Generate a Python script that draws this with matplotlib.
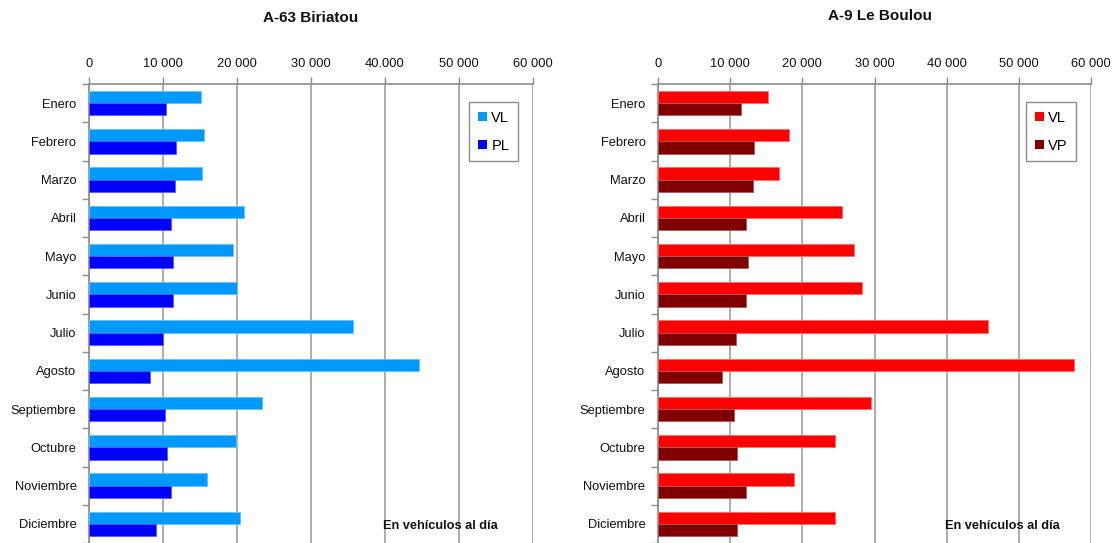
import matplotlib
matplotlib.use("Agg")
import matplotlib.pyplot as plt
from matplotlib.patches import Patch
import numpy as np

plt.rcParams['font.family'] = ['Liberation Sans', 'DejaVu Sans']

months = ["Enero", "Febrero", "Marzo", "Abril", "Mayo", "Junio", "Julio",
          "Agosto", "Septiembre", "Octubre", "Noviembre", "Diciembre"]

# A-63 Biriatou (vehículos al día)
biriatou_vl = [15200, 15500, 15250, 21000, 19500, 20000, 35700, 44600,
               23400, 19800, 16000, 20400]
biriatou_pl = [10350, 11800, 11600, 11100, 11400, 11400, 10000, 8300,
               10300, 10500, 11100, 9100]

# A-9 Le Boulou (vehículos al día)
boulou_vl = [15250, 18100, 16700, 25500, 27200, 28300, 45700, 57600,
             29500, 24500, 18900, 24500]
boulou_vp = [11500, 13300, 13100, 12200, 12500, 12200, 10800, 8800,
             10600, 10900, 12250, 10900]

x_ticks = [0, 10000, 20000, 30000, 40000, 50000, 60000]
left_tick_labels = ["0", "10 000", "20 000", "30 000", "40.000", "50 000", "60 000"]
right_tick_labels = ["0", "10 000", "20 000", "30 000", "40 000", "50 000", "60 000"]

W, H = 1118, 543
fig = plt.figure(figsize=(W / 100, H / 100), dpi=100)

GRID = "#a0a0a0"
AXIS = "#8c8c8c"


def draw_panel(rect, vl, second, names, colors, edges, tick_labels, title, title_xy):
    ax = fig.add_axes(rect)
    y = np.arange(len(months))
    h = 0.32
    ax.barh(y - h / 2, vl, height=h, color=colors[0], edgecolor=edges[0],
            linewidth=0.6, zorder=3)
    ax.barh(y + h / 2, second, height=h, color=colors[1], edgecolor=edges[1],
            linewidth=0.6, zorder=3)

    ax.set_xlim(0, 60000)
    ax.set_ylim(len(months) - 0.5, -0.5)

    ax.xaxis.tick_top()
    ax.set_xticks(x_ticks)
    ax.set_xticklabels(tick_labels)
    ax.tick_params(axis="x", which="major", direction="out", length=5,
                   color=AXIS, width=1, pad=5, labelsize=9.3, labelcolor="#111111")
    ax.grid(axis="x", color=GRID, linewidth=1.2, zorder=0)

    ax.set_yticks(y)
    ax.set_yticklabels(months)
    ax.set_yticks(np.arange(-0.5, len(months), 1.0), minor=True)
    ax.tick_params(axis="y", which="major", length=0, pad=9, labelsize=9.3,
                   labelcolor="#111111")
    ax.tick_params(axis="y", which="minor", length=5, color=AXIS, width=1,
                   direction="out")

    for side in ("bottom", "right"):
        ax.spines[side].set_visible(False)
    for side in ("top", "left"):
        ax.spines[side].set_color(AXIS)
        ax.spines[side].set_linewidth(1.2)

    handles = [Patch(facecolor=colors[0], edgecolor="none", label=names[0]),
               Patch(facecolor=colors[1], edgecolor="none", label=names[1])]
    leg = ax.legend(handles=handles, loc="upper right",
                    bbox_to_anchor=(0.966, 0.961), fontsize=10.5,
                    frameon=True, fancybox=False, framealpha=1,
                    edgecolor=AXIS, handlelength=0.6, handleheight=0.6,
                    handletextpad=0.3, labelspacing=0.95, borderpad=0.6,
                    borderaxespad=0)
    leg.get_frame().set_linewidth(1.0)

    ax.text(0.662, 0.036, "En vehículos al día", transform=ax.transAxes,
            fontsize=9.2, fontweight="bold", ha="left", va="center",
            color="#111111")

    fig.text(title_xy[0] / W, 1 - title_xy[1] / H, title, ha="center",
             va="center", fontsize=11, fontweight="bold", color="#111111")
    return ax


top_px, bot_px = 84, 543
draw_panel([89 / W, (H - bot_px) / H, 444 / W, (bot_px - top_px) / H],
           biriatou_vl, biriatou_pl, ("VL", "PL"),
           ("#0099ff", "#0000ff"), ("#66c2ff", "#5a5aff"),
           left_tick_labels, "A-63 Biriatou", (311, 18))

draw_panel([658 / W, (H - bot_px) / H, 433 / W, (bot_px - top_px) / H],
           boulou_vl, boulou_vp, ("VL", "VP"),
           ("#ff0000", "#800000"), ("#ff6a6a", "#a85a5a"),
           right_tick_labels, "A-9 Le Boulou", (880, 16))

fig.savefig("out.png", dpi=100)
